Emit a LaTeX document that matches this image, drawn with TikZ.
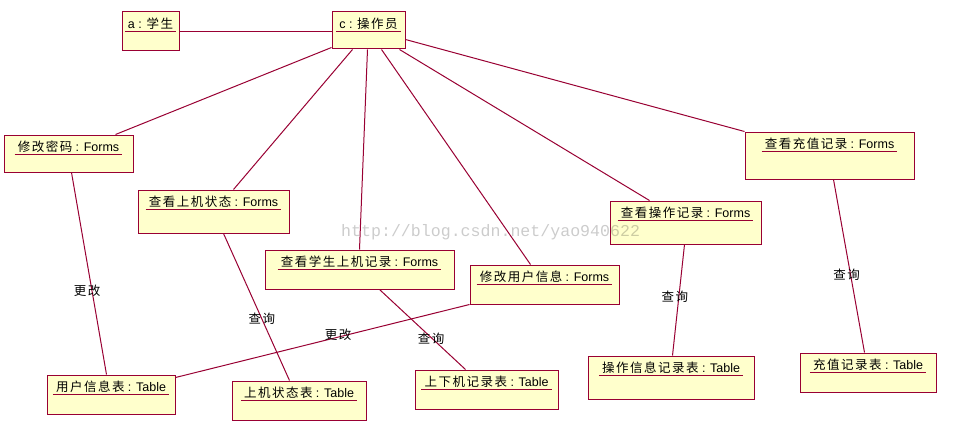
\documentclass[tikz,border=0pt]{standalone}
\usepackage{fontspec}
\setmainfont{Liberation Sans}
\newfontfamily\cjk[LetterSpace=12]{Noto Sans CJK SC}
\newfontfamily\wmfont{Liberation Mono}
\usetikzlibrary{calc}
\definecolor{umlred}{HTML}{990033}
\definecolor{umlfill}{HTML}{FFFFCC}
\newcommand\umlobject[6]{%
  \node[obj, minimum width={#4-#2}, minimum height={#5-#3}] (#1) at ({(#2+#4)/2},{(#3+#5)/2}) {};
  \node[otext] (#1t) at ({(#2+#4)/2},{#3+16.5}) {#6};
}
\begin{document}
\begin{tikzpicture}[x=1pt,y=-1pt,
  obj/.style={draw=umlred, fill=umlfill, line width=1pt, rectangle, inner sep=0pt},
  otext/.style={anchor=base, inner xsep=3pt, inner ysep=2.5pt, text depth=0pt,
    font=\fontsize{12.5}{15}\selectfont,
    append after command={(\tikzlastnode.south west) edge[draw=umlred, line width=1pt] (\tikzlastnode.south east)}},
  link/.style={draw=umlred, line width=1pt},
  elab/.style={font=\fontsize{12.5}{15}\selectfont, inner sep=0pt}
]
\useasboundingbox[fill=white] (0,0) rectangle (963,436);

\umlobject{a}{122}{12}{179}{51}{a : {\cjk 学生}}
\umlobject{c}{332}{12}{405}{49}{c : {\cjk 操作员}}
\umlobject{pwd}{4}{135}{133}{172}{{\cjk 修改密码} : Forms}
\umlobject{st}{138}{190}{289}{233}{{\cjk 查看上机状态} : Forms}
\umlobject{rec}{265}{250}{454}{289}{{\cjk 查看学生上机记录} : Forms}
\umlobject{mod}{470}{265}{619}{304}{{\cjk 修改用户信息} : Forms}
\umlobject{opf}{610}{201}{761}{244}{{\cjk 查看操作记录} : Forms}
\umlobject{chg}{745}{132}{914}{179}{{\cjk 查看充值记录} : Forms}
\umlobject{ut}{47}{375}{175}{414}{{\cjk 用户信息表} : Table}
\umlobject{stt}{232}{381}{366}{420}{{\cjk 上机状态表} : Table}
\umlobject{udt}{415}{370}{558}{409}{{\cjk 上下机记录表} : Table}
\umlobject{opt}{588}{356}{754}{399}{{\cjk 操作信息记录表} : Table}
\umlobject{cht}{800}{353}{936}{392}{{\cjk 充值记录表} : Table}

\draw[link] (a.east) -- (a.east -| c.west);
\draw[link] ($(c.south west)+(0,-2)$) -- ($(pwd.north west)+(112,0)$);
\draw[link] ($(c.south west)+(21,0)$) -- ($(st.north west)+(96,0)$);
\draw[link] ($(c.south west)+(36,0)$) -- ($(rec.north west)+(95,0)$);
\draw[link] ($(c.south west)+(50,0)$) -- ($(mod.north west)+(61,0)$);
\draw[link] ($(c.south west)+(68,0)$) -- ($(opf.north west)+(40,0)$);
\draw[link] ($(c.north east)+(0,28)$) -- (chg.north west);

\draw[link] ($(pwd.south west)+(68,0)$) -- node[elab, pos=0.586, xshift=-5pt] (l1) {\cjk 更改} ($(ut.north west)+(60,0)$);
\draw[link] ($(st.south west)+(86,0)$) -- node[elab, pos=0.581] (l2) {\cjk 查询} ($(stt.north west)+(58,0)$);
\draw[link] ($(rec.south west)+(115,0)$) -- node[elab, pos=0.617, xshift=-1.5pt] (l3) {\cjk 查询} ($(udt.north west)+(51,0)$);
\draw[link] (mod.south west) -- node[elab, pos=0.447, yshift=2pt] (l4) {\cjk 更改} ($(ut.north east)+(0,3)$);
\draw[link] ($(opf.south west)+(75,0)$) -- node[elab, pos=0.473, xshift=-4pt] (l5) {\cjk 查询} ($(opt.north west)+(85,0)$);
\draw[link] ($(chg.south west)+(89,0)$) -- node[elab, pos=0.552, xshift=-4pt] (l6) {\cjk 查询} ($(cht.north west)+(65,0)$);

\node[anchor=base west, font=\wmfont\fontsize{16.6}{18}\selectfont, text=black, text opacity=0.2, inner sep=0pt] (wm) at (341,236) {http://blog.csdn.net/yao940622};
\end{tikzpicture}
\end{document}
